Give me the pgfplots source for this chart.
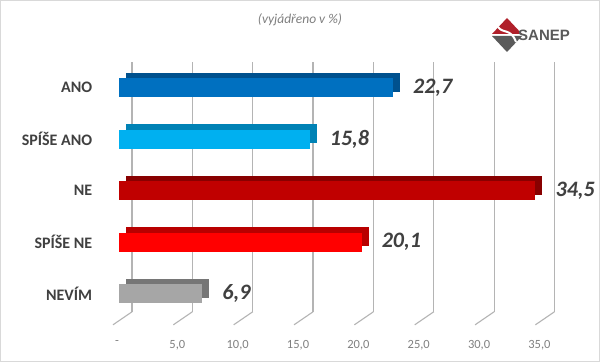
\documentclass[border=0pt]{standalone}
\usepackage{pgfplots}
\pgfplotsset{compat=1.18}
\usepackage{fontspec}
\setmainfont{Carlito}
\newfontfamily\logofont{Liberation Sans}
\definecolor{txt}{HTML}{404040}
\definecolor{tick}{HTML}{808080}
\definecolor{gridc}{HTML}{B4B4B4}
\definecolor{anoF}{HTML}{0070C0}\definecolor{anoB}{HTML}{00518E}
\definecolor{sanoF}{HTML}{00B0F0}\definecolor{sanoB}{HTML}{0082B5}
\definecolor{neF}{HTML}{C00000}\definecolor{neB}{HTML}{880000}
\definecolor{sneF}{HTML}{FF0000}\definecolor{sneB}{HTML}{B80000}
\definecolor{nevF}{HTML}{A6A6A6}\definecolor{nevB}{HTML}{767676}
\definecolor{logored}{HTML}{B0202A}
\definecolor{logogray}{HTML}{5A5A5A}
\begin{document}
\begin{tikzpicture}
\useasboundingbox (0pt,0pt) rectangle (600pt,362pt);
\fill[white] (0pt,0pt) rectangle (600pt,362pt);
\draw[black!15] (0.5pt,0.5pt) rectangle (599.5pt,361.5pt);
\node[font=\itshape\fontsize{13.5}{15}\selectfont, text=tick] at (300pt,342pt) {(vyjádřeno v \%)};
% logo
\fill[logogray] (492pt,326pt) -- (507pt,310pt) -- (522pt,326pt) -- cycle;
\fill[logored] (492pt,328pt) -- (507pt,344pt) -- (522pt,328pt) -- cycle;
\draw[white, line width=2pt] (498pt,335pt) .. controls (503pt,328pt) and (511pt,334pt) .. (516pt,320pt);
\node[anchor=west, font=\logofont\bfseries\fontsize{15}{17}\selectfont, text=logogray, inner sep=0pt] at (518pt,327pt) {SANEP};
\begin{axis}[
  at={(119pt,300pt)}, anchor=north west,
  scale only axis, width=434.5pt, height=249.8pt,
  xmin=0, xmax=36, ymin=-0.5, ymax=4.35,
  y dir=reverse, clip=false,
  axis line style={draw=none},
  tick style={draw=none},
  xtick={0,5,...,35},
  xticklabels={-,{5,0},{10,0},{15,0},{20,0},{25,0},{30,0},{35,0}},
  xticklabel style={font=\fontsize{12.5}{14}\selectfont, text=tick, yshift=-25pt, xshift=-2pt},
  ytick={0,1,2,3,4},
  yticklabels={ANO,SPÍŠE ANO,NE,SPÍŠE NE,NEVÍM},
  yticklabel style={font=\bfseries\fontsize{16}{18}\selectfont, text=txt, xshift=-19pt},
  xbar, bar width=19pt, bar shift=0pt,
  back/.style={draw=none, xshift=7pt, yshift=5.5pt},
  front/.style={draw=none, point meta=explicit symbolic, nodes near coords,
    nodes near coords style={anchor=west, inner sep=0pt, xshift=20pt,
      font=\bfseries\itshape\fontsize{22}{24}\selectfont, text=txt}},
]
\pgfplotsinvokeforeach{0,5,10,15,20,25,30,35}{
  \draw[gridc, line width=1.1pt] ([xshift=13pt]axis cs:#1,-0.5) -- ([xshift=13pt]axis cs:#1,4.35);
  \draw[gridc, line width=1.1pt] ([xshift=13pt]axis cs:#1,4.35) -- ([xshift=-6pt,yshift=-13pt]axis cs:#1,4.35);
}
\addplot[back, fill=anoB] coordinates {(22.7,0)};
\addplot[front, fill=anoF] coordinates {(22.7,0) [22,7]};
\addplot[back, fill=sanoB] coordinates {(15.8,1)};
\addplot[front, fill=sanoF] coordinates {(15.8,1) [15,8]};
\addplot[back, fill=neB] coordinates {(34.5,2)};
\addplot[front, fill=neF] coordinates {(34.5,2) [34,5]};
\addplot[back, fill=sneB] coordinates {(20.1,3)};
\addplot[front, fill=sneF] coordinates {(20.1,3) [20,1]};
\addplot[back, fill=nevB] coordinates {(6.9,4)};
\addplot[front, fill=nevF] coordinates {(6.9,4) [6,9]};
\end{axis}
\end{tikzpicture}
\end{document}
